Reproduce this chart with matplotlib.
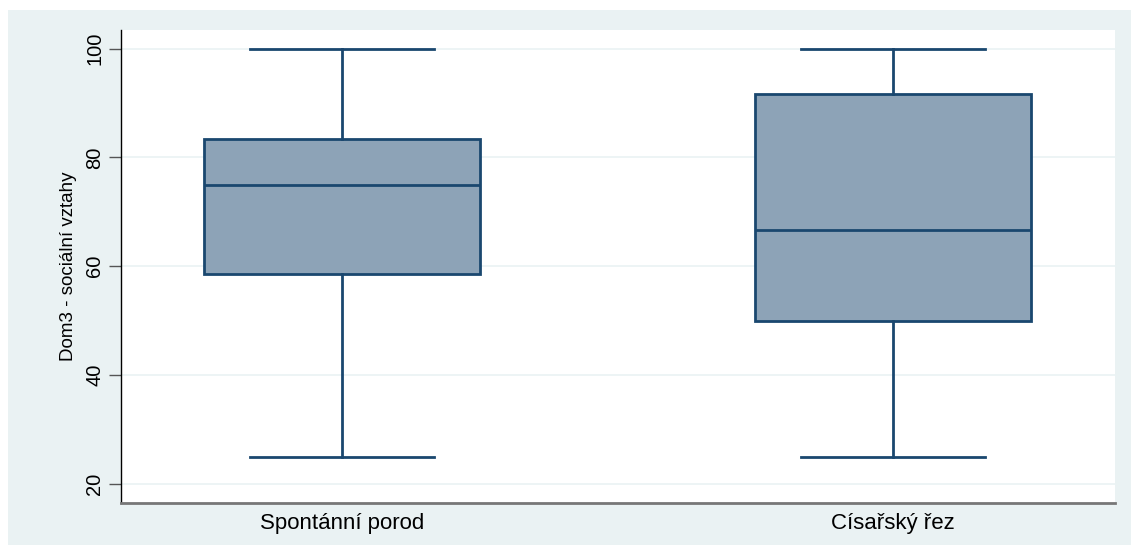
import matplotlib.pyplot as plt
from matplotlib.patches import Rectangle

# box plot values
groups = ['Spontánní porod', 'Císařský řez']
whislo = [25, 25]
q1 = [58.5, 50]
med = [75, 66.7]
q3 = [83.3, 91.7]
whishi = [100, 100]
yticks = [20, 40, 60, 80, 100]

navy = '#1a476f'
bg = '#eaf2f3'

plt.rcParams['font.family'] = ['Liberation Sans', 'DejaVu Sans']

fig = plt.figure(figsize=(11.31, 5.45), dpi=100, facecolor='white')
# stata style outer region (white strip on top and left)
fig.patches.append(Rectangle((8 / 1131, 0), 1, 1 - 10 / 545, transform=fig.transFigure,
                             facecolor=bg, edgecolor='none', zorder=-1))

ax = fig.add_axes([121 / 1131, 1 - 503 / 545, (1115 - 121) / 1131, (503 - 30) / 545])
ax.set_facecolor('white')

stats = []
for i in range(len(groups)):
    stats.append({'whislo': whislo[i], 'q1': q1[i], 'med': med[i], 'q3': q3[i],
                  'whishi': whishi[i], 'fliers': [], 'label': groups[i]})

ax.bxp(stats, positions=[1, 2], widths=0.5, patch_artist=True, showfliers=False,
       boxprops=dict(facecolor='#8da3b7', edgecolor=navy, linewidth=2),
       medianprops=dict(color=navy, linewidth=2),
       whiskerprops=dict(color=navy, linewidth=2),
       capprops=dict(color=navy, linewidth=2), capwidths=0.333)

ax.set_xlim(0.599, 2.403)
ax.set_ylim(16.5, 103.4)
ax.set_yticks(yticks)
ax.set_yticklabels([str(t) for t in yticks], rotation=90, va='center', fontsize=14.5)
ax.tick_params(axis='y', length=9, width=1, color='#555555', pad=3)
ax.tick_params(axis='x', length=0, labelsize=16, pad=7)
ax.grid(axis='y', color=bg, linewidth=1.2)
ax.set_axisbelow(True)

for s in ['top', 'right']:
    ax.spines[s].set_visible(False)
ax.spines['left'].set_color('black')
ax.spines['left'].set_linewidth(1)
ax.spines['bottom'].set_color('#777777')
ax.spines['bottom'].set_linewidth(2)

ax.set_ylabel('Dom3 - sociální vztahy', fontsize=13.5, labelpad=6)

fig.savefig('out.png', dpi=100, facecolor=fig.get_facecolor())
